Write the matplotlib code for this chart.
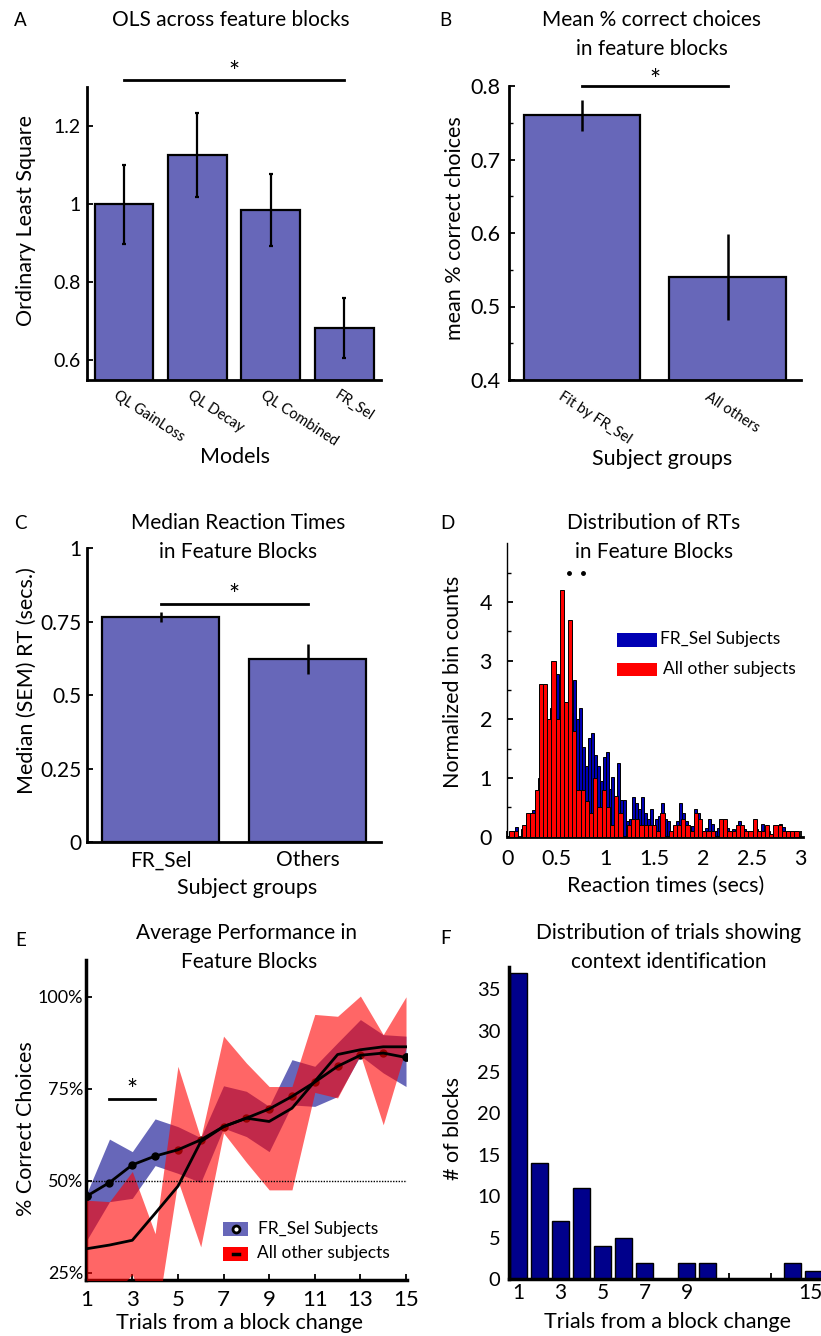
import numpy as np
import matplotlib
matplotlib.use("Agg")
import matplotlib.pyplot as plt
from matplotlib.patches import Rectangle
from matplotlib.transforms import ScaledTranslation

# ---------------- data ----------------
# Panel A
models = ['QL GainLoss', 'QL Decay', 'QL Combined', 'FR_Sel']
ols_mean = [1.0, 1.127, 0.985, 0.684]
ols_err = [0.102, 0.108, 0.092, 0.077]
# Panel B
groups_b = ['Fit by FR_Sel', 'All others']
pc_mean = [0.76, 0.54]
pc_err = [0.021, 0.059]
# Panel C
groups_c = ['FR_Sel', 'Others']
rt_mean = [0.767, 0.623]
rt_err = [0.018, 0.05]
# Panel D  (histograms of RTs)
frsel_bin_width = 0.03
frsel_counts = [0.05, 0.1, 0.16, 0.0, 0.13, 0.15, 0.3, 0.35, 0.45, 0.7,
                1.0, 1.5, 1.8, 1.9, 2.2, 2.0, 2.77, 2.05, 2.2, 2.3,
                1.9, 2.1, 2.67, 2.0, 2.2, 1.53, 1.2, 1.68, 1.76, 1.4,
                1.2, 0.95, 1.35, 1.45, 0.81, 1.02, 0.6, 1.26, 0.63, 0.63,
                0.27, 0.3, 0.67, 0.58, 0.48, 0.67, 0.4, 0.3, 0.48, 0.18,
                0.3, 0.35, 0.57, 0.3, 0.27, 0.09, 0.18, 0.27, 0.57, 0.4,
                0.27, 0.18, 0.18, 0.48, 0.4, 0.2, 0.1, 0.15, 0.3, 0.22,
                0.1, 0.15, 0.1, 0.1, 0.15, 0.1, 0.13, 0.1, 0.27, 0.15,
                0.13, 0.1, 0.1, 0.1, 0.13, 0.1, 0.21, 0.1, 0.1, 0.03,
                0.1, 0.15, 0.21, 0.17, 0.1, 0.1, 0.05, 0.1, 0.05]
others_bin_width = 3 / 70
others_counts = [0.1, 0.1, 0.0, 0.2, 0.4, 0.4, 0.8, 2.6, 2.6, 2.0,
                 3.0, 2.0, 4.2, 2.3, 3.7, 1.8, 0.8, 0.8, 0.6, 0.4,
                 1.0, 0.5, 0.8, 0.5, 0.2, 0.7, 0.4, 0.0, 0.2, 0.3,
                 0.3, 0.2, 0.2, 0.2, 0.2, 0.1, 0.4, 0.0, 0.1, 0.2,
                 0.2, 0.3, 0.2, 0.1, 0.4, 0.3, 0.1, 0.1, 0.1, 0.0,
                 0.3, 0.3, 0.1, 0.1, 0.2, 0.2, 0.1, 0.1, 0.3, 0.1,
                 0.1, 0.2, 0.05, 0.2, 0.2, 0.1, 0.1, 0.1, 0.1]
sig_dots_x = [0.634, 0.77]
sig_dots_y = [4.5, 4.5]
# Panel E
trials = list(range(1, 16))
frsel_perf = [45.8, 49.5, 54.3, 56.7, 58.4, 61.1, 64.7, 67.0, 69.5, 72.9, 76.8, 81.1, 84.1, 84.7, 83.5]
frsel_upper = [46.5, 61.3, 57.9, 66.8, 64.7, 61.7, 75.8, 74.3, 70.2, 82.9, 81.1, 87.5, 93.8, 89.7, 89.3]
frsel_lower = [33.8, 44.3, 45.2, 54.1, 52.0, 49.5, 64.3, 62.0, 57.9, 70.6, 70.2, 72.9, 84.0, 79.3, 75.6]
others_perf = [31.5, 32.5, 33.8, 41.1, 48.5, 60.6, 64.7, 67.0, 66.1, 69.7, 77.0, 84.3, 85.6, 86.4, 86.4]
others_upper = [44.7, 44.3, 52.5, 35.6, 81.1, 61.5, 89.3, 82.0, 75.6, 75.6, 95.2, 94.7, 100.2, 89.7, 100.0]
others_lower = [20.0, 18.0, 24.5, 10.0, 50.0, 32.0, 63.0, 55.0, 47.5, 47.5, 74.0, 72.5, 84.3, 65.2, 86.0]
chance_level = 50
# Panel F
trial_bins = list(range(1, 16))
n_blocks = [37, 14, 7, 11, 4, 5, 2, 0, 2, 2, 0, 0, 0, 2, 1]

# ---------------- style ----------------
plt.rcParams['font.family'] = ['Lato', 'DejaVu Sans']
W, H = 821, 1336
fig = plt.figure(figsize=(W / 100, H / 100), dpi=100)

BAR = '#6767B9'
HIST_BLUE = '#0000B4'
NAVY = '#00008B'


def axpx(l, t, r, b):
    return fig.add_axes([l / W, 1 - b / H, (r - l) / W, (b - t) / H])


def ftext(x, y, s, **kw):
    kw.setdefault('ha', 'center')
    kw.setdefault('va', 'center')
    fig.text(x / W, 1 - y / H, s, **kw)


def style(ax, lw_left=2.0, lw_bottom=2.0, pad=5, size=14):
    for s in ['top', 'right']:
        ax.spines[s].set_visible(False)
    ax.spines['left'].set_linewidth(lw_left)
    ax.spines['bottom'].set_linewidth(lw_bottom)
    ax.tick_params(direction='in', length=4, width=1.3, labelsize=size, pad=pad)
    ax.tick_params(which='minor', direction='in', length=3, width=1.0)


TITLE = 15
LAB = 15.5
STAR = 19

# ---------------- Panel A ----------------
axA = axpx(87.3, 87.3, 381, 380)
xa = np.arange(1, len(models) + 1)
axA.bar(xa, ols_mean, 0.8, color=BAR, edgecolor='k', linewidth=1.6, zorder=2)
axA.errorbar(xa, ols_mean, yerr=ols_err, fmt='none', ecolor='k', elinewidth=1.6,
             capsize=1.5, capthick=1.6, zorder=3)
axA.set_xlim(0.5, 4.5)
axA.set_ylim(0.55, 1.3)
axA.set_yticks([0.6, 0.8, 1.0, 1.2], ['0.6', '0.8', '1', '1.2'])
axA.set_xticks(xa, models, rotation=-33, ha='left', va='top', rotation_mode='anchor')
style(axA, pad=5, size=14)
for lbl in axA.get_xticklabels():
    lbl.set_fontsize(10.5)
    lbl.set_transform(lbl.get_transform() + ScaledTranslation(-5 / 100, -1 / 100, fig.dpi_scale_trans))
axA.plot([1, 4], [1.318, 1.318], color='k', lw=2, clip_on=False)
axA.text(2.5, 1.335, '*', ha='center', va='center', fontsize=STAR, clip_on=False)

# ---------------- Panel B ----------------
axB = axpx(509, 86, 800.7, 380)
xb = np.arange(1, len(groups_b) + 1)
axB.bar(xb, pc_mean, 0.8, color=BAR, edgecolor='k', linewidth=1.6, zorder=2)
axB.errorbar(xb, pc_mean, yerr=pc_err, fmt='none', ecolor='k', elinewidth=1.8, capsize=0, zorder=3)
axB.set_xlim(0.5, 2.5)
axB.set_ylim(0.4, 0.8)
axB.set_yticks([0.4, 0.5, 0.6, 0.7, 0.8], ['0.4', '0.5', '0.6', '0.7', '0.8'])
axB.set_yticks([0.45, 0.55, 0.65, 0.75], minor=True)
axB.set_xticks(xb, groups_b, rotation=-33, ha='left', va='top', rotation_mode='anchor')
style(axB, pad=6, size=15.5)
for lbl in axB.get_xticklabels():
    lbl.set_fontsize(10.5)
    lbl.set_transform(lbl.get_transform() + ScaledTranslation(-18 / 100, -1 / 100, fig.dpi_scale_trans))
axB.plot([1, 2], [0.8, 0.8], color='k', lw=2, clip_on=False)
axB.text(1.5, 0.806, '*', ha='center', va='center', fontsize=STAR, clip_on=False)

# ---------------- Panel C ----------------
axC = axpx(87.3, 548.4, 381, 842)
xc = np.arange(1, len(groups_c) + 1)
axC.bar(xc, rt_mean, 0.8, color=BAR, edgecolor='k', linewidth=1.6, zorder=2)
axC.errorbar(xc, rt_mean, yerr=rt_err, fmt='none', ecolor='k', elinewidth=1.8, capsize=0, zorder=3)
axC.set_xlim(0.5, 2.5)
axC.set_ylim(0, 1)
axC.set_yticks([0, 0.25, 0.5, 0.75, 1.0], ['0', '0.25', '0.5', '0.75', '1'])
axC.set_xticks(xc, groups_c)
style(axC, pad=4, size=15)
axC.tick_params(axis='x', pad=6)
axC.plot([1, 2], [0.81, 0.81], color='k', lw=2, clip_on=False)
axC.text(1.5, 0.835, '*', ha='center', va='center', fontsize=STAR)

# ---------------- Panel D ----------------
axD = axpx(507.3, 543.3, 802.7, 836.7)
xblue = frsel_bin_width * np.arange(1, len(frsel_counts) + 1)
xred = others_bin_width * np.arange(1, len(others_counts) + 1)
axD.bar(xblue, frsel_counts, frsel_bin_width, color=HIST_BLUE, edgecolor='k', linewidth=0.7, zorder=2)
axD.bar(xred, others_counts, others_bin_width, color='#FF0000', edgecolor='k', linewidth=0.7, zorder=3)
axD.plot(sig_dots_x, sig_dots_y, 'k.', ms=5)
axD.set_xlim(0, 3.02)
axD.set_ylim(0, 5.0)
axD.set_yticks([0, 1, 2, 3, 4])
axD.set_yticks(np.arange(0.5, 5, 1.0), minor=True)
axD.set_xticks([0, 0.5, 1, 1.5, 2, 2.5, 3], ['0', '0.5', '1', '1.5', '2', '2.5', '3'])
style(axD, lw_left=1.0, lw_bottom=2.0, pad=9, size=15.5)
axD.tick_params(axis='y', pad=11)
# legend
fig.add_artist(Rectangle((617.3 / W, 1 - 646.7 / H), 39.4 / W, 13.4 / H, transform=fig.transFigure,
                         facecolor=HIST_BLUE, edgecolor='none'))
fig.add_artist(Rectangle((617.3 / W, 1 - 675.7 / H), 39.4 / W, 12.4 / H, transform=fig.transFigure,
                         facecolor='#FF0000', edgecolor='none'))
ftext(660, 639.3, 'FR_Sel Subjects', ha='left', fontsize=12.5)
ftext(663.3, 669.3, 'All other subjects', ha='left', fontsize=12.5)

# ---------------- Panel E ----------------
axE = axpx(86.0, 960, 406.7, 1280)
axE.fill_between(trials, frsel_lower, frsel_upper, color=BAR, linewidth=0, zorder=1)
axE.plot(trials, frsel_perf, 'o', color='k', ms=5, zorder=2)
axE.fill_between(trials, others_lower, others_upper, color='#FF0000', alpha=0.6, linewidth=0, zorder=3)
axE.plot(trials, frsel_perf, '-', color='k', lw=2, zorder=4)
axE.plot(trials[:1] + trials[-1:], [frsel_perf[0], frsel_perf[-1]], 'o', color='k', ms=5, zorder=5)
axE.plot(trials, others_perf, '-', color='k', lw=2, zorder=4)
axE.axhline(chance_level, xmin=0.002, xmax=1, color='k', lw=1.0, ls=(0, (1, 1)), zorder=5)
axE.set_xlim(0.97, 15.03)
axE.set_ylim(23, 110)
axE.set_xticks(range(1, 16, 2))
axE.set_yticks([25, 50, 75, 100], ['25%', '50%', '75%', '100%'])
style(axE, lw_left=2.5, lw_bottom=2.5, pad=2, size=13)
axE.tick_params(axis='x', labelsize=16, pad=7)
axE.plot([2, 4], [72.2, 72.2], color='k', lw=2)
axE.text(3, 74.2, '*', ha='center', va='center', fontsize=STAR)
# legend
fig.add_artist(Rectangle((223.3 / W, 1 - 1235.7 / H), 25 / W, 13.4 / H, transform=fig.transFigure,
                         facecolor=BAR, edgecolor='none'))
fig.add_artist(Rectangle((223.3 / W, 1 - 1260.7 / H), 25 / W, 13.4 / H, transform=fig.transFigure,
                         facecolor='#FF0000', edgecolor='none'))
fig.lines.append(plt.Line2D([235.8 / W], [1 - 1229 / H], marker='o', ms=5, mfc='white', mec='k', mew=2,
                            transform=fig.transFigure))
fig.lines.append(plt.Line2D([232.5 / W, 239 / W], [1 - 1254 / H, 1 - 1254 / H], color='k', lw=2.5,
                            transform=fig.transFigure))
ftext(257.7, 1229, 'FR_Sel Subjects', ha='left', fontsize=12.5)
ftext(256.7, 1253.3, 'All other subjects', ha='left', fontsize=12.5)

# ---------------- Panel F ----------------
axF = axpx(508.8, 966.7, 823.8, 1279.3)
axF.bar(trial_bins, n_blocks, 0.8, color=NAVY, edgecolor='k', linewidth=1.0, zorder=2)
axF.set_xlim(0.55, 15.5)
axF.set_ylim(0, 37.7)
axF.set_yticks(range(0, 36, 5))
axF.set_xticks(range(1, 16, 2), ['1', '3', '5', '7', '9', '', '', '15'])
style(axF, lw_left=2.5, lw_bottom=2.5, pad=6, size=14.5)
axF.tick_params(axis='x', labelsize=15, pad=3)
last = axF.get_xticklabels()[-1]
last.set_transform(last.get_transform() + ScaledTranslation(-3 / 100, 0, fig.dpi_scale_trans))

# ---------------- titles / labels ----------------
for (x, y, s) in [(20.3, 20.8, 'A'), (445.8, 20, 'B'), (20, 523.3, 'C'), (447.5, 523.3, 'D'),
                  (20.8, 940, 'E'), (445.8, 939, 'F')]:
    ftext(x, y, s, fontsize=13.5)

ftext(231, 20, 'OLS across feature blocks', fontsize=TITLE)
ftext(651.7, 20, 'Mean % correct choices', fontsize=TITLE)
ftext(651.7, 49.3, 'in feature blocks', fontsize=TITLE)
ftext(238, 523.3, 'Median Reaction Times', fontsize=TITLE)
ftext(238, 552.3, 'in Feature Blocks', fontsize=TITLE)
ftext(654, 523.3, 'Distribution of RTs', fontsize=TITLE)
ftext(654, 552.3, 'in Feature Blocks', fontsize=TITLE)
ftext(246.3, 932.7, 'Average Performance in', fontsize=TITLE)
ftext(249, 962.3, 'Feature Blocks', fontsize=TITLE)
ftext(668.3, 932.7, 'Distribution of trials showing', fontsize=TITLE)
ftext(668.8, 961.7, 'context identification', fontsize=TITLE)

ftext(26, 220, 'Ordinary Least Square', rotation=90, fontsize=LAB)
ftext(454.5, 227.7, 'mean % correct choices', rotation=90, fontsize=LAB)
ftext(26.7, 681, 'Median (SEM) RT (secs.)', rotation=90, fontsize=LAB)
ftext(452.5, 681.7, 'Normalized bin counts', rotation=90, fontsize=LAB)
ftext(25.8, 1128.3, '% Correct Choices', rotation=90, fontsize=LAB)
ftext(453.3, 1128.3, '# of blocks', rotation=90, fontsize=LAB)

ftext(235, 457.3, 'Models', fontsize=LAB)
ftext(661.7, 459.3, 'Subject groups', fontsize=LAB)
ftext(246.7, 888.3, 'Subject groups', fontsize=LAB)
ftext(665.7, 886, 'Reaction times (secs)', fontsize=LAB)
ftext(239.2, 1323.3, 'Trials from a block change', fontsize=LAB)
ftext(667.5, 1321.7, 'Trials from a block change', fontsize=LAB)

fig.savefig('out.png', dpi=100)
